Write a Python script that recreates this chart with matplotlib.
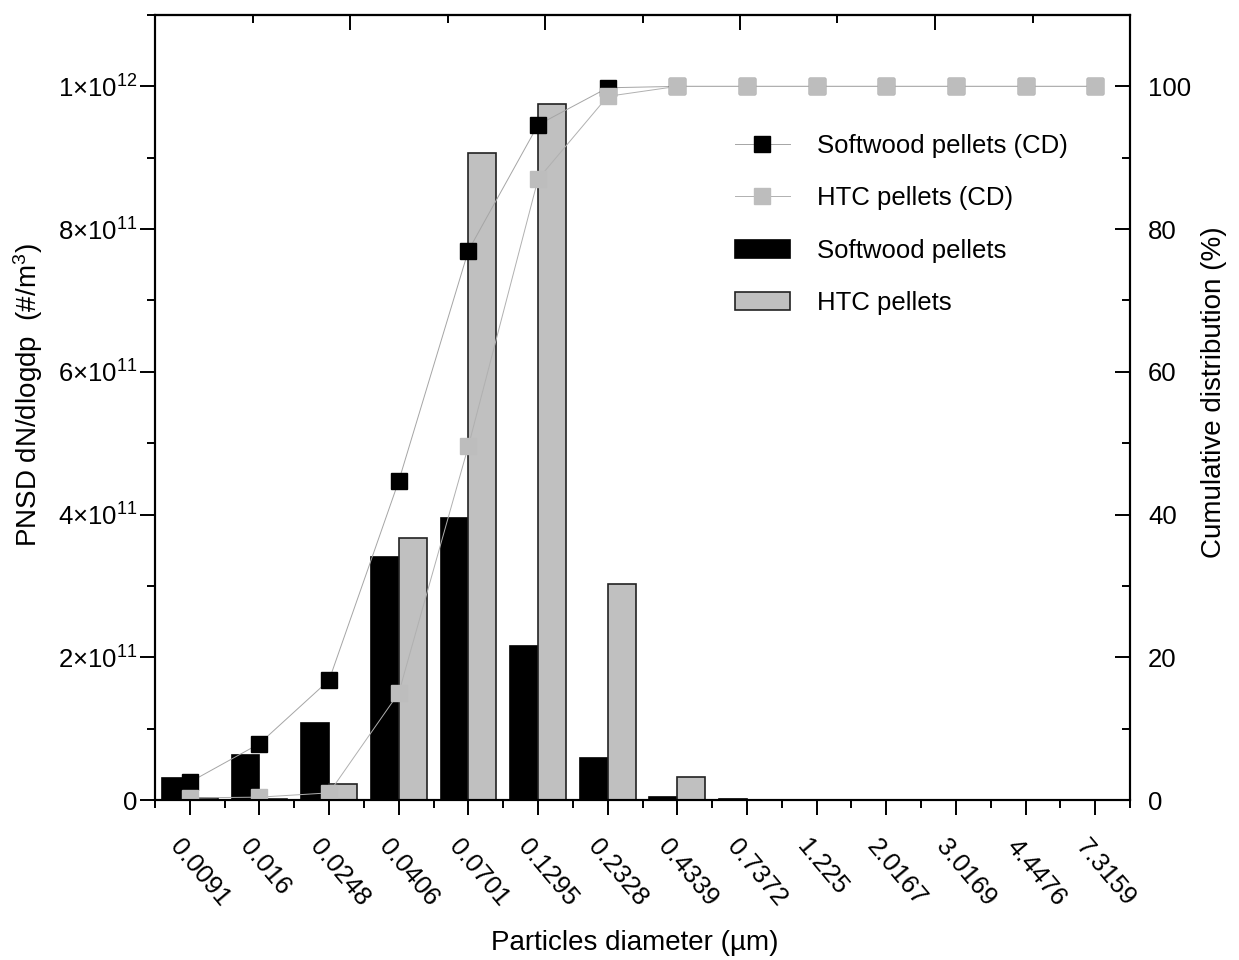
import numpy as np
import matplotlib.pyplot as plt
from matplotlib.ticker import FixedLocator, FuncFormatter, MultipleLocator

plt.rcParams['font.family'] = ['Liberation Sans', 'DejaVu Sans']
plt.rcParams['mathtext.fontset'] = 'custom'
plt.rcParams['mathtext.rm'] = 'Liberation Sans'
plt.rcParams['mathtext.it'] = 'Liberation Sans:italic'

diameters = ['0.0091', '0.016', '0.0248', '0.0406', '0.0701', '0.1295', '0.2328',
             '0.4339', '0.7372', '1.225', '2.0167', '3.0169', '4.4476', '7.3159']

# PNSD dN/dlogdp (#/m3)
softwood_pnsd = [3.1e10, 6.3e10, 1.08e11, 3.41e11, 3.95e11, 2.16e11, 5.9e10,
                 4e9, 1e9, 0, 0, 0, 0, 0]
htc_pnsd = [3e9, 1e9, 2.2e10, 3.67e11, 9.06e11, 9.75e11, 3.03e11,
            3.2e10, 0, 0, 0, 0, 0, 0]

# cumulative distribution (%)
softwood_cd = [2.5, 7.9, 16.8, 44.7, 77.0, 94.6, 99.8, 100, 100, 100, 100, 100, 100, 100]
htc_cd = [0.3, 0.4, 1.0, 15.0, 49.6, 87.0, 98.6, 100, 100, 100, 100, 100, 100, 100]

x = np.arange(len(diameters))
w = 0.4

fig = plt.figure(figsize=(12.39, 9.6), dpi=100)
ax = fig.add_axes([155 / 1239, 1 - 800 / 960, 975 / 1239, 785 / 960])

b1 = ax.bar(x - w / 2, softwood_pnsd, w, color='black', edgecolor='black',
            linewidth=1.2, label='Softwood pellets')
b2 = ax.bar(x + w / 2, htc_pnsd, w, color='#c0c0c0', edgecolor='#222222',
            linewidth=1.2, label='HTC pellets')

ax.set_xlim(-0.5, 13.5)
ax.set_ylim(0, 1.1e12)


def sci_fmt(v, pos):
    if v < 1:
        return '0' if v == 0 else ''
    e = int(np.floor(np.log10(v)))
    m = v / 10 ** e
    return r'$\mathregular{%d{\times}10^{%d}}$' % (round(m), e)


ax.yaxis.set_major_locator(MultipleLocator(2e11))
ax.yaxis.set_minor_locator(MultipleLocator(1e11))
ax.yaxis.set_major_formatter(FuncFormatter(sci_fmt))

ax.xaxis.set_major_locator(FixedLocator(x))
ax.xaxis.set_minor_locator(FixedLocator(np.arange(-0.5, 14, 1)))
ax.set_xticklabels(diameters, rotation=-50, ha='left', va='top',
                   rotation_mode='anchor')

ax.tick_params(axis='both', which='major', direction='out', length=11, width=1.4,
               labelsize=18.5)
ax.tick_params(axis='both', which='minor', direction='out', length=6, width=1.4)
ax.tick_params(axis='y', which='major', pad=2)
ax.tick_params(axis='x', which='major', pad=14)
for s in ax.spines.values():
    s.set_linewidth(1.5)

# nudge the slanted diameter labels a little to the left
from matplotlib.transforms import ScaledTranslation
shift = ScaledTranslation(-6 / 100, 0, fig.dpi_scale_trans)
for lbl in ax.get_xticklabels():
    lbl.set_transform(lbl.get_transform() + shift)

# top axis: plain inward ticks, no labels
top = ax.secondary_xaxis('top', functions=(lambda v: (v + 0.5) / 14,
                                           lambda f: f * 14 - 0.5))
top.xaxis.set_major_locator(FixedLocator([0.2, 0.4, 0.6, 0.8]))
top.xaxis.set_minor_locator(FixedLocator([0.1, 0.3, 0.5, 0.7, 0.9]))
top.tick_params(which='major', direction='in', length=11, width=1.4, labeltop=False)
top.tick_params(which='minor', direction='in', length=6, width=1.4)
top.spines['top'].set_linewidth(1.5)

ax2 = ax.twinx()
l1, = ax2.plot(x, softwood_cd, color='#a5a5a5', linewidth=0.7, marker='s',
               markersize=11.5, markerfacecolor='black', markeredgecolor='black',
               label='Softwood pellets (CD)')
l2, = ax2.plot(x, htc_cd, color='#b0b0b0', linewidth=0.7, marker='s',
               markersize=11.5, markerfacecolor='#bdbdbd', markeredgecolor='#bdbdbd',
               label='HTC pellets (CD)')
ax2.set_ylim(0, 110)
ax2.yaxis.set_major_locator(MultipleLocator(20))
ax2.yaxis.set_minor_locator(MultipleLocator(10))
ax2.yaxis.set_major_formatter(FuncFormatter(lambda v, p: '%d' % v if 0 <= v <= 100 else ''))
ax2.tick_params(axis='y', which='major', direction='in', length=11, width=1.4,
                labelsize=18.5, pad=13)
ax2.tick_params(axis='y', which='minor', direction='in', length=6, width=1.4)
for s in ax2.spines.values():
    s.set_linewidth(1.5)

ax.set_xlabel('Particles diameter (µm)', fontsize=20)
ax.set_ylabel(r'PNSD dN/dlogdp  (#/m$^3$)', fontsize=20)
ax2.set_ylabel('Cumulative distribution (%)', fontsize=20)
ax.xaxis.set_label_coords(0.492, -0.165)
ax.yaxis.set_label_coords(-0.113, 0.516)
ax2.yaxis.set_label_coords(1.073, 0.52)

ax2.legend([l1, l2, b1, b2],
           ['Softwood pellets (CD)', 'HTC pellets (CD)', 'Softwood pellets', 'HTC pellets'],
           loc='upper left', bbox_to_anchor=(735 / 1239, 1 - 134 / 960),
           bbox_transform=fig.transFigure, frameon=False, fontsize=18.5,
           borderpad=0, borderaxespad=0, handlelength=2.14, handletextpad=1.05,
           labelspacing=1.1)

fig.savefig('out.png', dpi=100)
